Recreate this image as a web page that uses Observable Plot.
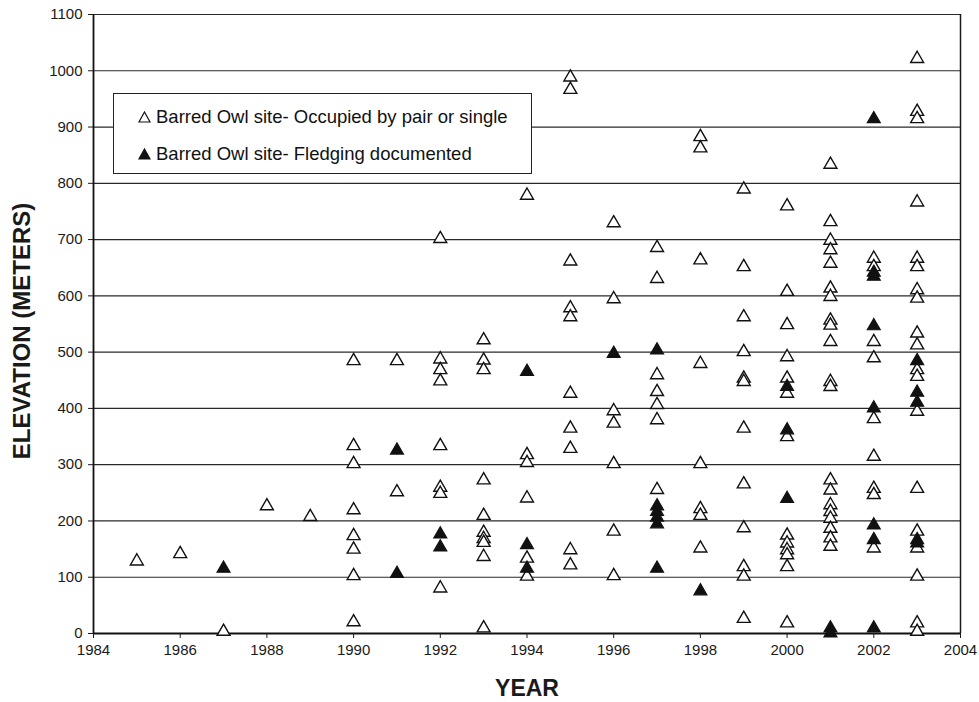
<!DOCTYPE html>
<html>
<head>
<meta charset="utf-8">
<script src="https://cdn.jsdelivr.net/npm/d3@7"></script>
<script src="https://cdn.jsdelivr.net/npm/@observablehq/plot@0.6"></script>
<style>
  body { margin: 0; background: #fff; font-family: "Liberation Sans", Arial, sans-serif; }
  #wrap { position: relative; width: 979px; height: 702px; }
  #legend {
    position: absolute; left: 113px; top: 93px; width: 417px; height: 79px;
    border: 1.3px solid #222; background: #fff; color: #111; font-size: 18.5px; z-index: 2;
  }
  #legend .row { position: absolute; left: 24px; height: 22px; display: flex; align-items: center; white-space: nowrap; }
  #legend svg { margin-right: 5px; }
</style>
</head>
<body>
<div id="wrap"></div>
<script>
// ---- data ----
const years = [1985, 1986, 1987, 1988, 1989, 1990, 1991, 1992, 1993, 1994,
               1995, 1996, 1997, 1998, 1999, 2000, 2001, 2002, 2003];

// Barred Owl site – occupied by pair or single (open triangles)
const occupiedElevations = [
  [132],
  [145],
  [7],
  [230],
  [211],
  [488, 337, 305, 223, 177, 153, 106, 24],
  [488, 255],
  [705, 491, 472, 452, 337, 263, 252, 84],
  [525, 489, 472, 276, 213, 183, 172, 165, 140, 13],
  [782, 321, 307, 244, 137, 105],
  [992, 970, 665, 582, 566, 430, 368, 332, 152, 125],
  [733, 598, 399, 377, 305, 185, 106],
  [689, 634, 463, 433, 410, 383, 259],
  [886, 866, 667, 483, 305, 225, 213, 155],
  [793, 655, 566, 504, 457, 451, 368, 269, 191, 122, 105, 30],
  [763, 611, 552, 495, 457, 430, 353, 178, 164, 152, 143, 122, 22],
  [837, 735, 702, 685, 661, 617, 602, 560, 551, 522, 451, 442, 276, 258, 232, 220, 208, 190, 173, 158],
  [670, 655, 522, 493, 385, 318, 261, 250, 155],
  [1025, 931, 918, 770, 670, 655, 614, 599, 537, 516, 472, 460, 398, 261, 185, 155, 105, 22, 7]
];

// Barred Owl site – fledging documented (filled triangles)
const fledgingElevations = [
  [], [], [119], [], [], [],
  [329, 110],
  [180, 157],
  [],
  [469, 161, 119],
  [],
  [501],
  [507, 230, 220, 210, 198, 119],
  [79],
  [],
  [442, 365, 243],
  [13, 4],
  [918, 645, 638, 550, 404, 196, 170, 13],
  [488, 432, 414, 170, 164]
];

const xTicks = [1984, 1986, 1988, 1990, 1992, 1994, 1996, 1998, 2000, 2002, 2004];
const yTicks = [0, 100, 200, 300, 400, 500, 600, 700, 800, 900, 1000, 1100];
const legendLabels = ["Barred Owl site- Occupied by pair or single", "Barred Owl site- Fledging documented"];
const xTitle = "YEAR";
const yTitle = "ELEVATION (METERS)";

// ---- build tables ----
const occupied = years.flatMap((yr, i) => occupiedElevations[i].map(e => ({year: yr, elev: e})));
const fledging = years.flatMap((yr, i) => fledgingElevations[i].map(e => ({year: yr, elev: e})));

const font = "'Liberation Sans', Arial, sans-serif";

const chart = Plot.plot({
  width: 979,
  height: 702,
  marginLeft: 93,
  marginRight: 19,
  marginTop: 14,
  marginBottom: 69,
  style: {fontFamily: font, fontSize: "15px", color: "#1a1a1a", background: "#fff"},
  x: {domain: [1984, 2004]},
  y: {domain: [0, 1100]},
  marks: [
    Plot.ruleY(yTicks, {stroke: "#2a2a2a", strokeWidth: 1.2}),
    Plot.ruleX([2004], {stroke: "#1a1a1a", strokeWidth: 1.5}),
    Plot.ruleX([1984], {stroke: "#111", strokeWidth: 1.8}),
    Plot.ruleY([0], {stroke: "#111", strokeWidth: 1.8}),
    Plot.axisY({ticks: yTicks, tickSize: 5, tickPadding: 6, fontSize: 15, tickFormat: d => String(d), label: null}),
    Plot.axisX({ticks: xTicks, tickSize: 5, tickPadding: 6, fontSize: 15, tickFormat: d => String(d), label: null}),
    Plot.dot(occupied, {x: "year", y: "elev", symbol: "triangle", r: 4.8, dy: 2,
                        fill: "#fff", stroke: "#111", strokeWidth: 1.4}),
    Plot.dot(fledging, {x: "year", y: "elev", symbol: "triangle", r: 4.8, dy: 2,
                        fill: "#111", stroke: "#111", strokeWidth: 1.2}),
    Plot.text([xTitle], {frameAnchor: "bottom", dy: 62, fontSize: 23, fontWeight: "bold", fill: "#1a1a1a"}),
    Plot.text([yTitle], {frameAnchor: "left", textAnchor: "middle", lineAnchor: "middle", dx: -71, dy: 7, rotate: -90,
                         fontSize: 24, fontWeight: "bold", fill: "#1a1a1a"})
  ]
});

const wrap = document.getElementById("wrap");
wrap.appendChild(chart);

// legend inside the plot area (top-left)
const legend = document.createElement("div");
legend.id = "legend";
const tri = filled => `<svg width="13" height="12" viewBox="0 0 13 12"><path d="M6.5 1 L12 11 L1 11 Z" fill="${filled ? '#111' : '#fff'}" stroke="#111" stroke-width="1.2"/></svg>`;
legendLabels.forEach((label, i) => {
  const row = document.createElement("div");
  row.className = "row";
  row.style.top = (i === 0 ? 12 : 49) + "px";
  row.innerHTML = tri(i === 1) + "<span>" + label + "</span>";
  legend.appendChild(row);
});
wrap.appendChild(legend);
</script>
</body>
</html>
